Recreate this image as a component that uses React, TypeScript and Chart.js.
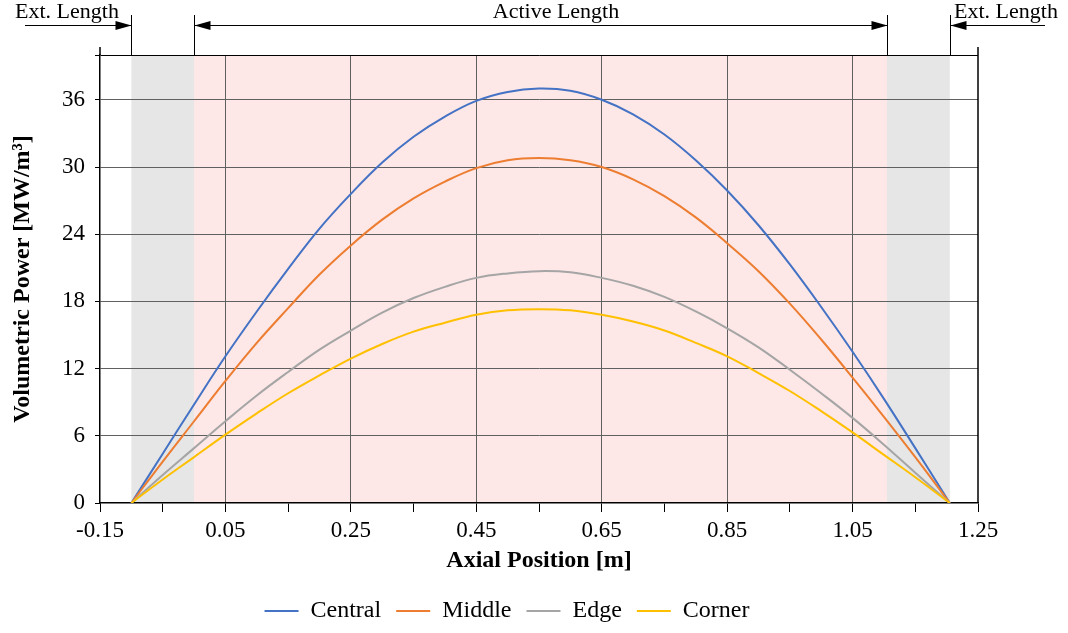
import React, { useEffect, useRef } from "react";
import { Chart, registerables } from "chart.js";

Chart.register(...registerables);

const FONT = "'Liberation Serif', 'Times New Roman', serif";

// Axial positions [m] of the sampled points
const positions = [
  -0.1, -0.05, 0, 0.05, 0.1, 0.15, 0.2, 0.25, 0.3, 0.35, 0.4, 0.45, 0.5, 0.55,
  0.6, 0.65, 0.7, 0.75, 0.8, 0.85, 0.9, 0.95, 1.0, 1.05, 1.1, 1.15, 1.205,
];

// Volumetric power [MW/m3]
const central = [
  0, 4.4, 8.8, 13.1, 17.1, 20.9, 24.5, 27.6, 30.4, 32.7, 34.5, 35.9, 36.7, 37.0,
  36.8, 36.0, 34.7, 32.9, 30.6, 27.9, 24.8, 21.3, 17.5, 13.5, 9.3, 4.9, 0,
];
const middle = [
  0, 3.7, 7.3, 10.9, 14.3, 17.4, 20.4, 23.0, 25.3, 27.2, 28.7, 29.9, 30.6, 30.8,
  30.6, 30.0, 28.9, 27.4, 25.5, 23.2, 20.7, 17.8, 14.6, 11.2, 7.7, 4.1, 0,
];
const edge = [
  0, 2.5, 4.9, 7.3, 9.6, 11.7, 13.7, 15.4, 17.0, 18.3, 19.3, 20.1, 20.5, 20.7,
  20.6, 20.1, 19.4, 18.4, 17.1, 15.6, 13.9, 11.9, 9.8, 7.6, 5.2, 2.7, 0,
];
const corner = [
  0, 2.1, 4.1, 6.1, 8.0, 9.8, 11.4, 12.9, 14.2, 15.3, 16.1, 16.8, 17.2, 17.3,
  17.2, 16.8, 16.2, 15.4, 14.3, 13.1, 11.6, 10.0, 8.2, 6.3, 4.3, 2.3, 0,
];

const seriesNames = ["Central", "Middle", "Edge", "Corner"];
const seriesValues = [central, middle, edge, corner];
const seriesColors = ["#4472C4", "#ED7D31", "#A5A5A5", "#FFC000"];

const xTickValues = [
  -0.15, -0.05, 0.05, 0.15, 0.25, 0.35, 0.45, 0.55, 0.65, 0.75, 0.85, 0.95,
  1.05, 1.15, 1.25,
];
const xTickLabels = ["-0.15", "0.05", "0.25", "0.45", "0.65", "0.85", "1.05", "1.25"];
const yTickValues = [0, 6, 12, 18, 24, 30, 36, 40];
const yTickLabels = ["0", "6", "12", "18", "24", "30", "36", ""];

const extLeftRange = [-0.1, 0.0];
const activeRange = [0.0, 1.105];
const extRightRange = [1.105, 1.205];
const regionLabels = ["Ext. Length", "Active Length", "Ext. Length"];

function arrowHead(ctx: CanvasRenderingContext2D, tipX: number, y: number, dir: number) {
  ctx.beginPath();
  ctx.moveTo(tipX, y);
  ctx.lineTo(tipX - dir * 16, y - 4.5);
  ctx.lineTo(tipX - dir * 16, y + 4.5);
  ctx.closePath();
  ctx.fill();
}

const regionPlugin = {
  id: "regionPlugin",
  beforeDraw(chart: any) {
    const { ctx, chartArea: a, scales } = chart;
    const x = scales.x;
    ctx.save();
    const band = (r: number[], c: string) => {
      const x0 = x.getPixelForValue(r[0]);
      const x1 = x.getPixelForValue(r[1]);
      ctx.fillStyle = c;
      ctx.fillRect(x0, a.top, x1 - x0, a.bottom - a.top);
    };
    band(extLeftRange, "#E6E6E6");
    band(activeRange, "#FDE7E7");
    band(extRightRange, "#E6E6E6");
    ctx.restore();
  },
  afterDraw(chart: any) {
    const { ctx, chartArea: a, scales } = chart;
    const x = scales.x;
    const xs = [extLeftRange[0], activeRange[0], activeRange[1], extRightRange[1]].map(
      (v) => Math.round(x.getPixelForValue(v)) + 0.5
    );
    const ay = 25.5;
    ctx.save();
    ctx.strokeStyle = "#000";
    ctx.fillStyle = "#000";
    ctx.lineWidth = 1;
    ctx.beginPath();
    xs.forEach((px) => {
      ctx.moveTo(px, 15);
      ctx.lineTo(px, a.top);
    });
    ctx.moveTo(25, ay);
    ctx.lineTo(xs[0], ay);
    ctx.moveTo(xs[1], ay);
    ctx.lineTo(xs[2], ay);
    ctx.moveTo(xs[3], ay);
    ctx.lineTo(1045, ay);
    ctx.stroke();
    arrowHead(ctx, xs[0], ay, 1);
    arrowHead(ctx, xs[1], ay, -1);
    arrowHead(ctx, xs[2], ay, 1);
    arrowHead(ctx, xs[3], ay, -1);

    ctx.font = `22px ${FONT}`;
    ctx.textAlign = "center";
    ctx.textBaseline = "middle";
    ctx.fillText(regionLabels[0], 67, 12);
    ctx.fillText(regionLabels[1], 556, 12);
    ctx.fillText(regionLabels[2], 1006, 12);

    // right frame line and axis extensions above the plot
    ctx.lineWidth = 1.5;
    ctx.beginPath();
    ctx.moveTo(a.right, a.top - 8);
    ctx.lineTo(a.right, a.bottom);
    ctx.moveTo(a.left, a.top - 8);
    ctx.lineTo(a.left, a.top);
    ctx.stroke();
    ctx.restore();
  },
};

export default function App() {
  const canvasRef = useRef<HTMLCanvasElement | null>(null);

  useEffect(() => {
    const canvas = canvasRef.current;
    if (!canvas) return;
    const datasets = seriesNames.map((name, i) => ({
      label: name,
      data: positions.map((p, j) => ({ x: p, y: seriesValues[i][j] })),
      borderColor: seriesColors[i],
      backgroundColor: seriesColors[i],
      borderWidth: 2,
      pointRadius: 0,
      fill: false,
      tension: 0.4,
      order: seriesNames.length - i,
    }));

    const chart = new Chart(canvas, {
      type: "line",
      data: { datasets },
      plugins: [regionPlugin],
      options: {
        animation: false,
        responsive: false,
        layout: { padding: { top: 55, right: 54, bottom: 0, left: 0 } },
        plugins: {
          tooltip: { enabled: false },
          legend: {
            position: "bottom",
            labels: {
              usePointStyle: true,
              pointStyle: "line",
              pointStyleWidth: 34,
              padding: 15,
              color: "#000",
              font: { family: FONT, size: 24 },
              sort: (a: any, b: any) => a.datasetIndex - b.datasetIndex,
            },
          },
        },
        scales: {
          x: {
            type: "linear",
            min: -0.15,
            max: 1.25,
            afterBuildTicks: (axis: any) => {
              axis.ticks = xTickValues.map((v) => ({ value: v }));
            },
            afterFit: (s: any) => {
              s.height = 81;
            },
            ticks: {
              autoSkip: false,
              maxRotation: 0,
              padding: 5,
              color: "#000",
              font: { family: FONT, size: 23 },
              callback: (_v: any, idx: number) => (idx % 2 === 0 ? xTickLabels[idx / 2] : ""),
            },
            grid: {
              color: (c: any) =>
                c.index % 2 === 0 && c.index > 0 && c.index < xTickValues.length - 1
                  ? "#606060"
                  : "rgba(0,0,0,0)",
              tickColor: "#000",
              tickLength: 9,
              lineWidth: 1,
            },
            border: { display: true, color: "#000", width: 1.5 },
            title: {
              display: true,
              text: "Axial Position [m]",
              color: "#000",
              font: { family: FONT, size: 24, weight: "bold" },
              padding: { top: 0, bottom: 9 },
            },
          },
          y: {
            type: "linear",
            min: 0,
            max: 40,
            afterBuildTicks: (axis: any) => {
              axis.ticks = yTickValues.map((v) => ({ value: v }));
            },
            afterFit: (s: any) => {
              s.width = 100;
            },
            ticks: {
              autoSkip: false,
              padding: 10,
              color: "#000",
              font: { family: FONT, size: 23 },
              callback: (_v: any, idx: number) => yTickLabels[idx],
            },
            grid: {
              color: (c: any) =>
                c.index === 0
                  ? "rgba(0,0,0,0)"
                  : c.index === yTickValues.length - 1
                  ? "#000"
                  : "#606060",
              tickColor: "#000",
              tickLength: 5,
              lineWidth: 1,
            },
            border: { display: true, color: "#000", width: 1.5 },
            title: {
              display: true,
              text: "Volumetric Power [MW/m³]",
              color: "#000",
              font: { family: FONT, size: 24, weight: "bold" },
              padding: { top: 8, bottom: 0 },
            },
          },
          y2: {
            type: "linear",
            position: "right",
            display: true,
            min: 0,
            max: 1,
            afterFit: (s: any) => {
              s.width = 36;
            },
            ticks: { display: false },
            grid: { display: false, drawTicks: false },
            border: { display: false },
          },
        },
      },
    });
    return () => chart.destroy();
  }, []);

  return (
    <div style={{ position: "absolute", left: 0, top: 0, width: 1068, height: 633, background: "#fff" }}>
      <canvas ref={canvasRef} width={1068} height={633} style={{ width: 1068, height: 633 }} />
    </div>
  );
}
